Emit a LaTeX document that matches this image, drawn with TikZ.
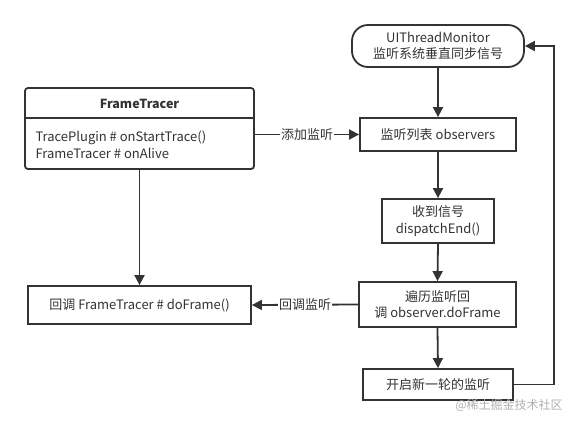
\documentclass[tikz,border=0pt]{standalone}
\usepackage{fontspec}
\setmainfont{Noto Sans CJK SC}
\usetikzlibrary{arrows.meta,calc}
\definecolor{ln}{HTML}{333333}
\definecolor{wm}{HTML}{B0B0B0}
\tikzset{
  box/.style={draw=ln,line width=1.8pt,fill=white,align=center,inner sep=0pt,text=ln,font=\fontsize{13}{16.5}\selectfont},
  conn/.style={draw=ln,line width=1.8pt,-{Triangle[length=10pt,width=10pt]}},
  lbl/.style={fill=white,inner sep=1pt,text=ln,font=\fontsize{13}{16.5}\selectfont}
}
\begin{document}
\begin{tikzpicture}[x=1pt,y=-1pt]
\useasboundingbox (0,0) rectangle (574,424);
\node[box,rounded corners=16pt,minimum width=172pt,minimum height=42pt] (ui) at (438,46) {UIThreadMonitor\\监听系统垂直同步信号};
\node[box,rounded corners=3pt,minimum width=229pt,minimum height=81pt] (ft) at (139.5,128.5) {};
\draw[ln,line width=1.8pt] (25,118) -- (254,118);
\node[text=ln,font=\fontsize{12.5}{15}\selectfont\bfseries] (fttitle) at (139.5,104) {FrameTracer};
\node[text=ln,align=left,anchor=west,font=\fontsize{13}{16.5}\selectfont] (ftbody) at (32,145) {TracePlugin \# onStartTrace()\\FrameTracer \# onAlive};
\node[box,minimum width=156pt,minimum height=33pt] (obs) at (438,134.5) {监听列表 observers};
\node[box,minimum width=112pt,minimum height=44pt] (recv) at (438,221) {收到信号\\dispatchEnd()};
\node[box,minimum width=157pt,minimum height=45pt] (trav) at (437.5,304.5) {遍历监听回\\调 observer.doFrame};
\node[box,minimum width=223pt,minimum height=38pt] (dof) at (139.5,305) {回调 FrameTracer \# doFrame()};
\node[box,minimum width=150pt,minimum height=31pt] (open) at (438,384.5) {开启新一轮的监听};
\node[text=wm,font=\fontsize{12}{14}\selectfont] (wmk) at (509,405) {@稀土掘金技术社区};
\coordinate (loopx) at (554,0);
\draw[conn] (ui.south) -- (obs.north);
\draw[conn] (obs.south) -- (recv.north);
\draw[conn] (recv.south) -- (trav.north);
\draw[conn] (trav.south) -- (open.north);
\draw[conn] (ft.south) -- (dof.north);
\draw[conn] (obs.west -| ft.east) -- node[lbl]{添加监听} (obs.west);
\draw[conn] (trav.west) -- node[lbl]{回调监听} (dof.east);
\draw[conn] (open.east) -- (open.east -| loopx) |- (ui.east);
\end{tikzpicture}
\end{document}
